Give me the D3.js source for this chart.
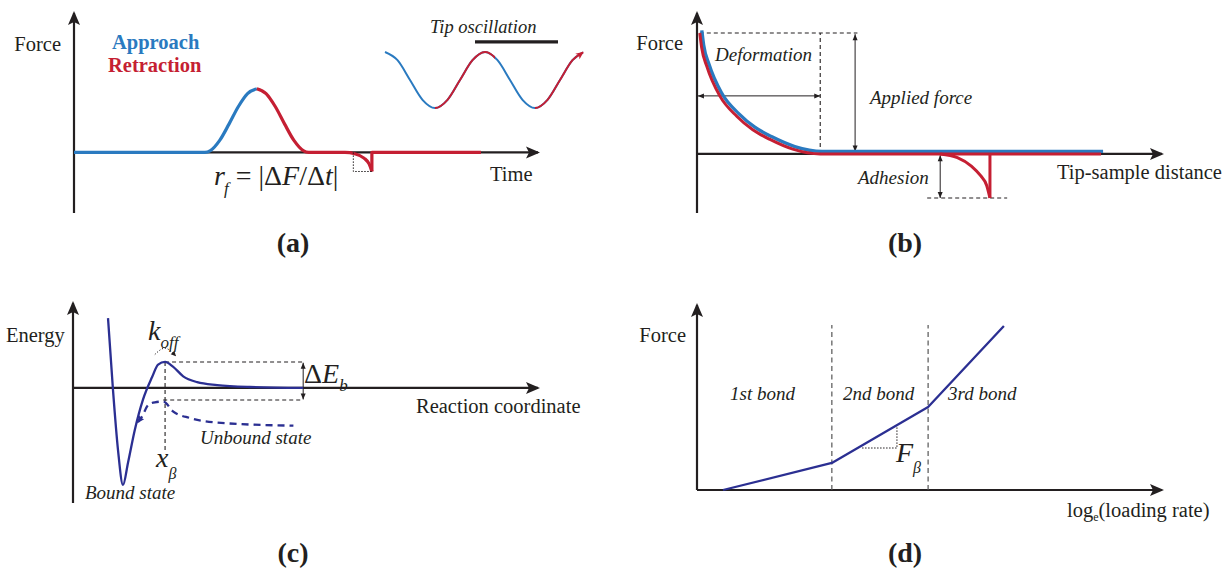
<!DOCTYPE html>
<html><head><meta charset="utf-8">
<script src="https://cdn.jsdelivr.net/npm/d3@7"></script>
<style>body{margin:0;background:#fff}svg{display:block}</style>
</head><body>
<svg id="c" width="1229" height="570"></svg>
<script>
// ---------------- DATA ----------------
// (a) force vs time
const aApproach = [[0,0],[28.2,0],[29.4,0.028],[31.4,0.188],[33.4,0.444],[35.4,0.717],[37.4,0.923],[39.4,1]];
const aRetract  = [[39.4,1],[41.4,0.923],[43.4,0.717],[45.4,0.444],[47.4,0.188],[49.4,0.028],[50.6,0],[58.4,0],[60.5,-0.02],[62.5,-0.09],[63.6,-0.18],[64.2,-0.3]];
const aRetractStep = [[64.2,-0.3],[64.2,0],[87.7,0]];
const aRateBox = [[60.2,0],[60.2,-0.3],[64.2,-0.3]];
// tip oscillation inset (phase in periods, normalised height)
const oscWave = [[0,1],[0.125,0.707],[0.25,0],[0.375,-0.707],[0.5,-1],[0.625,-0.707],[0.75,0],[0.875,0.707],[1,1],
                 [1.125,0.707],[1.25,0],[1.375,-0.707],[1.5,-1],[1.625,-0.707],[1.75,0],[1.875,0.707],[1.98,0.99]];
const oscRetractPhases = [[0.5,1],[1.5,2]];
const tipBar = [[0.9,1.36],[1.73,1.36]];
const tipCone = [[0.955,1.33],[1.045,1.33],[1,1.07]];
// (b) force vs tip-sample distance
const bContact = [[0.6,1],[1,0.88],[2.15,0.72],[4.9,0.48],[8.6,0.31],[12,0.2],[15.7,0.12],[20.6,0.04],[26.5,0],[86.9,0]];
const bAdhesion = [[52.3,0],[56,-0.03],[59,-0.1],[61,-0.18],[62.3,-0.26],[63,-0.364]];
const bSnap = [[63,-0.364],[63,0]];
const bTopGuide = [[0.6,1],[34.5,1]];
const bDeformGuide = [[26.5,0],[26.5,1]];
const bDeformArrow = [[0.2,0.48],[26.5,0.48]];
const bForceArrow = [[34,0.02],[34,0.99]];
const bAdhArrow = [[52.3,-0.01],[52.3,-0.364]];
const bAdhGuide = [[49.5,-0.364],[66.7,-0.364]];
// (c) energy landscape
const cBound = [[7.53,0.72],[8.6,-0.02],[9.68,-0.64],[10.75,-1.0],[11.83,-0.77],[13.3,-0.43],[15.05,-0.12],[16.99,0.11],
                [18.3,0.24],[19.8,0.268],[21.5,0.22],[23.7,0.12],[26.7,0.06],[31,0.03],[38,0.01],[49.5,0]];
const cTilted = [[13.98,-0.35],[14.77,-0.3],[16.19,-0.175],[17.6,-0.148],[19.42,-0.14],[21.57,-0.244],[25.16,-0.31],[30.9,-0.357],[47.4,-0.389]];
const cBarrierGuide = [[19.8,0.268],[49.5,0.268]];
const cTiltGuide = [[19.4,-0.124],[49.5,-0.124]];
const cXbetaGuide = [[19.8,0.268],[19.8,-0.64]];
const cEbArrow = [[49.5,0.26],[49.5,-0.118]];
const cKoffArc = [[17.6,0.345],[19.8,0.41],[22.0,0.335]];
// (d) dynamic force spectrum
const dSpectrum = [[5.6,0],[29,0.165],[49.7,0.506],[66,1.0]];
const dBondLimits = [29, 49.7];
const dBondNames = ["1st bond","2nd bond","3rd bond"];
const dFbeta = [[35.5,0.256],[43,0.256],[43,0.384]];

// ---------------- STYLE ----------------
const SERIF = "'Liberation Serif','Times New Roman',Times,serif";
const INK = "#231f20", BLUE = "#2a7ac0", RED = "#c51f33", NAVY = "#2b2f92";

const svg = d3.select("#c");
const defs = svg.append("defs");
function marker(id, color, len, wid, notch, refX) {
  defs.append("marker").attr("id", id).attr("markerUnits", "userSpaceOnUse")
    .attr("markerWidth", len).attr("markerHeight", wid).attr("refX", refX).attr("refY", wid / 2)
    .attr("orient", "auto-start-reverse").attr("overflow", "visible")
    .append("path").attr("d", `M0,0L${len},${wid / 2}L0,${wid}L${notch},${wid / 2}Z`).attr("fill", color);
}
marker("axArrow", INK, 14, 12, 3, 12);
marker("dimArrow", INK, 6, 5, 0, 6);
marker("redArrow", RED, 8, 7, 2, 7);
marker("navyArrow", NAVY, 8, 6, 1, 6);
marker("dotArrow", INK, 5, 5, 0, 4);

function axes(x, y) {
  svg.append("line").attr("x1", x.range()[0]).attr("x2", x.range()[1]).attr("y1", y(0)).attr("y2", y(0))
    .attr("stroke", INK).attr("stroke-width", 2.2).attr("marker-end", "url(#axArrow)");
  svg.append("line").attr("x1", x(0)).attr("x2", x(0)).attr("y1", y.range()[0]).attr("y2", y.range()[1])
    .attr("stroke", INK).attr("stroke-width", 2.2).attr("marker-end", "url(#axArrow)");
}
function path(data, x, y, curve, color, width, extra) {
  const p = svg.append("path").datum(data)
    .attr("d", d3.line().x(d => x(d[0])).y(d => y(d[1])).curve(curve))
    .attr("fill", "none").attr("stroke", color).attr("stroke-width", width)
    .attr("stroke-linejoin", "round");
  if (extra) extra(p);
  return p;
}
const dashed = p => p.attr("stroke-dasharray", "4,3");
const dotted = p => p.attr("stroke-dasharray", "1.5,1.5");
const dim = p => p.attr("marker-start", "url(#dimArrow)").attr("marker-end", "url(#dimArrow)");
function txt(x, y, s, o = {}) {
  return svg.append("text").attr("x", x).attr("y", y).attr("font-family", SERIF)
    .attr("font-size", o.size || 20.5).attr("font-style", o.italic ? "italic" : null)
    .attr("font-weight", o.bold ? "bold" : null).attr("fill", o.fill || INK)
    .attr("text-anchor", o.anchor || "start").text(s);
}
function sub(x, y, main, subs, o = {}) {
  const t = svg.append("text").attr("x", x).attr("y", y).attr("font-family", SERIF).attr("fill", INK);
  t.append("tspan").attr("font-size", o.size || 27).attr("font-style", o.mainItalic === false ? null : "italic").text(main);
  t.append("tspan").attr("font-size", o.subSize || 16).attr("font-style", o.subItalic === false ? null : "italic")
    .attr("dy", o.dy || 8).attr("dx", o.dx || 0).text(subs);
  return t;
}

// ---------------- PANEL (a) ----------------
const xA = d3.scaleLinear().domain([0, 100]).range([74, 538]);
const yA = d3.scaleLinear().domain([-0.952, 2.19]).range([213, 13]);
axes(xA, yA);
path(aApproach, xA, yA, d3.curveMonotoneX, BLUE, 3.2);
path(aRetract, xA, yA, d3.curveMonotoneX, RED, 3.2);
path(aRetractStep, xA, yA, d3.curveLinear, RED, 3.2);
path(aRateBox, xA, yA, d3.curveLinear, INK, 1, dotted);
txt(61, 51, "Force", { anchor: "end" });
txt(112, 49, "Approach", { bold: true, fill: BLUE });
txt(108, 72, "Retraction", { bold: true, fill: RED });
txt(490, 181, "Time");
{
  const t = svg.append("text").attr("x", 214).attr("y", 185).attr("font-family", SERIF).attr("fill", INK).attr("font-size", 28);
  t.append("tspan").attr("font-style", "italic").text("r");
  t.append("tspan").attr("font-style", "italic").attr("font-size", 17).attr("dy", 9).attr("dx", -1).text("f");
  t.append("tspan").attr("dy", -9).text(" = |Δ");
  t.append("tspan").attr("font-style", "italic").text("F");
  t.append("tspan").text("/Δ");
  t.append("tspan").attr("font-style", "italic").text("t");
  t.append("tspan").text("|");
}
// inset
const oscX = d3.scaleLinear().domain([0, 2]).range([385, 585]);
const oscY = d3.scaleLinear().domain([-1, 1]).range([108, 52]);
const waveLine = d3.line().x(d => oscX(d[0])).y(d => oscY(d[1])).curve(d3.curveMonotoneX);
svg.append("path").datum(oscWave).attr("d", waveLine).attr("fill", "none").attr("stroke", BLUE).attr("stroke-width", 2);
oscRetractPhases.forEach((ph, i) => {
  const id = "clipR" + i;
  defs.append("clipPath").attr("id", id).append("rect")
    .attr("x", oscX(ph[0])).attr("width", oscX(ph[1]) - oscX(ph[0]) + 10).attr("y", 30).attr("height", 100);
  svg.append("path").datum(oscWave).attr("d", waveLine).attr("fill", "none").attr("stroke", RED).attr("stroke-width", 2)
    .attr("clip-path", `url(#${id})`);
});
svg.append("path").datum(oscWave.slice(-2)).attr("d", d3.line().x(d => oscX(d[0])).y(d => oscY(d[1])))
  .attr("fill", "none").attr("stroke", "none").attr("stroke-width", 2).attr("marker-end", "url(#redArrow)");
path(tipBar, oscX, oscY, d3.curveLinear, INK, 3.2);
svg.append("path").datum(tipCone).attr("d", d3.line().x(d => oscX(d[0])).y(d => oscY(d[1])) + "Z").attr("fill", "#4a4a4a");
txt(430, 33, "Tip oscillation", { italic: true, size: 18.5 });
txt(293, 252, "(a)", { bold: true, size: 28, anchor: "middle" });

// ---------------- PANEL (b) ----------------
const xB = d3.scaleLinear().domain([0, 100]).range([697, 1162]);
const yB = d3.scaleLinear().domain([-0.488, 1.165]).range([213, 13]);
axes(xB, yB);
path(bTopGuide, xB, yB, d3.curveLinear, INK, 1.1, dashed);
path(bDeformGuide, xB, yB, d3.curveLinear, INK, 1.1, dashed);
path(bAdhGuide, xB, yB, d3.curveLinear, INK, 1.1, dashed);
path(bDeformArrow, xB, yB, d3.curveLinear, INK, 1, dim);
path(bForceArrow, xB, yB, d3.curveLinear, INK, 1, dim);
path(bAdhArrow, xB, yB, d3.curveLinear, INK, 1, dim);
path(bContact, xB, yB, d3.curveMonotoneX, BLUE, 3.4).attr("transform", "translate(2,-2.6)");
path(bContact, xB, yB, d3.curveMonotoneX, RED, 3);
path(bAdhesion, xB, yB, d3.curveMonotoneX, RED, 3);
path(bSnap, xB, yB, d3.curveLinear, RED, 3);
txt(683, 50, "Force", { anchor: "end" });
txt(715, 61, "Deformation", { italic: true, size: 19 });
txt(870, 104, "Applied force", { italic: true, size: 19 });
txt(858, 184, "Adhesion", { italic: true, size: 19 });
txt(1057, 179, "Tip-sample distance");
txt(905, 252, "(b)", { bold: true, size: 28, anchor: "middle" });

// ---------------- PANEL (c) ----------------
const xC = d3.scaleLinear().domain([0, 100]).range([73, 538]);
const yC = d3.scaleLinear().domain([-1.186, 0.876]).range([503, 303]);
axes(xC, yC);
path(cBarrierGuide, xC, yC, d3.curveLinear, INK, 1.1, dashed);
path(cTiltGuide, xC, yC, d3.curveLinear, INK, 1.1, dashed);
path(cXbetaGuide, xC, yC, d3.curveLinear, INK, 1.1, dashed);
path(cEbArrow, xC, yC, d3.curveLinear, INK, 1, dim);
path(cKoffArc, xC, yC, d3.curveNatural, INK, 1, p => p.attr("stroke-dasharray", "1.2,1.8").attr("marker-end", "url(#dotArrow)"));
path(cBound, xC, yC, d3.curveMonotoneX, NAVY, 2.3);
path(cTilted, xC, yC, d3.curveMonotoneX, NAVY, 2.3, p => p.attr("stroke-dasharray", "7,5").attr("marker-start", "url(#navyArrow)"));
txt(6, 342, "Energy");
sub(148, 340, "k", "off", { size: 28, subSize: 17, dy: 8 });
sub(304, 383, "ΔE", "b", { size: 28, subSize: 17, dy: 8 }).select("tspan").each(function () {
  d3.select(this).text(null);
  d3.select(this).append("tspan").attr("font-style", "normal").text("Δ");
  d3.select(this).append("tspan").attr("font-style", "italic").text("E");
});
sub(156, 467, "x", "β", { size: 28, subSize: 16, dy: 12 });
txt(200, 444, "Unbound state", { italic: true, size: 19 });
txt(85, 499, "Bound state", { italic: true, size: 19 });
txt(416, 413, "Reaction coordinate");
txt(293, 562, "(c)", { bold: true, size: 28, anchor: "middle" });

// ---------------- PANEL (d) ----------------
const xD = d3.scaleLinear().domain([0, 100]).range([697, 1162]);
const yD = d3.scaleLinear().domain([0, 1.128]).range([490, 305]);
axes(xD, yD);
dBondLimits.forEach(b => path([[b, 0], [b, 1.006]], xD, yD, d3.curveLinear, "#555", 1.2, p => p.attr("stroke-dasharray", "5,3.5")));
path(dFbeta, xD, yD, d3.curveLinear, INK, 1, dotted);
path(dSpectrum, xD, yD, d3.curveLinear, NAVY, 2.3);
txt(686, 342, "Force", { anchor: "end" });
[730, 843, 948].forEach((x, i) => txt(x, 400, dBondNames[i], { italic: true, size: 19 }));
sub(896, 462, "F", "β", { size: 28, subSize: 16, dy: 11 });
{
  const t = svg.append("text").attr("x", 1067).attr("y", 517).attr("font-family", SERIF).attr("fill", INK).attr("font-size", 20.5);
  t.append("tspan").text("log");
  t.append("tspan").attr("font-size", 12).attr("dy", 4).text("e");
  t.append("tspan").attr("dy", -4).text("(loading rate)");
}
txt(905, 562, "(d)", { bold: true, size: 28, anchor: "middle" });
</script>
</body></html>
